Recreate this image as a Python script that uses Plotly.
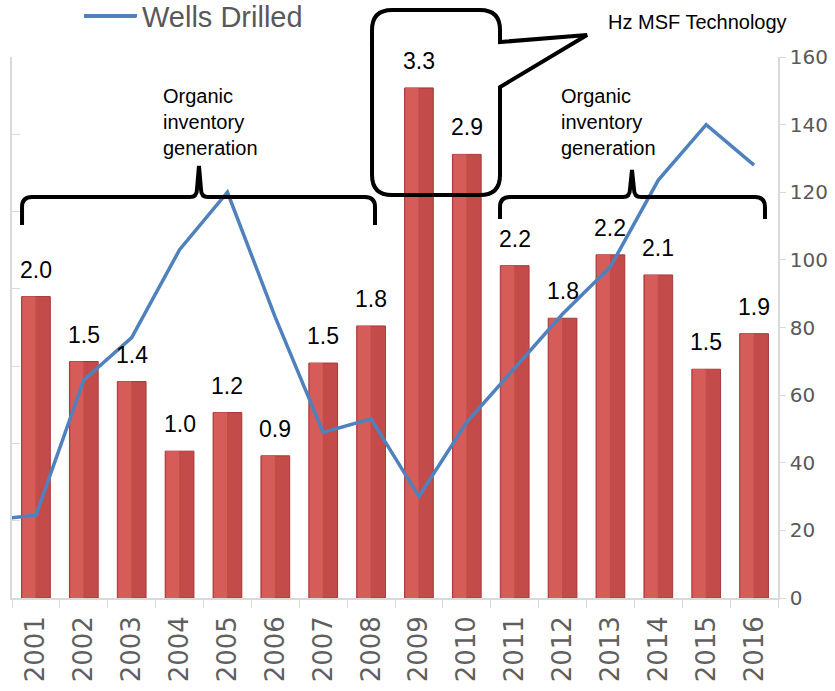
import plotly.graph_objects as go

# data
years = [str(y) for y in range(2001, 2017)]
bar_height = [1.95, 1.53, 1.40, 0.95, 1.20, 0.92, 1.52, 1.76, 3.30, 2.87, 2.15, 1.81, 2.22, 2.09, 1.48, 1.71]
bar_label = ["2.0", "1.5", "1.4", "1.0", "1.2", "0.9", "1.5", "1.8", "3.3", "2.9", "2.2", "1.8", "2.2", "2.1", "1.5", "1.9"]
line_years = ["2000"] + years
wells_drilled = [23, 24.5, 64.5, 77, 103, 120, 83, 49, 53, 30, 52, 68, 84, 98, 123.6, 140, 128]

W, H = 835, 691
L, R, T, B = 12, 57, 57, 93
PW, PH = W - L - R, H - T - B


def px(x):
    return (x - L) / PW


def py(y):
    return (H - B - y) / PH


fig = go.Figure()

# bars: darker base with a lighter left half for the bevelled look
fig.add_trace(go.Bar(
    x=years, y=bar_height, width=0.6, offset=-0.3, showlegend=False,
    marker=dict(color="#C34C4A", line=dict(color="#A23A38", width=1)),
    hoverinfo="skip"
))
fig.add_trace(go.Bar(
    x=years, y=bar_height, width=0.27, offset=-0.28, showlegend=False,
    marker=dict(color="#D65C5A", line=dict(width=0)),
    hoverinfo="skip"
))

fig.add_trace(go.Scatter(
    x=line_years, y=wells_drilled, yaxis="y2", mode="lines", name="Wells Drilled",
    line=dict(color="#4F81BD", width=3.5)
))

# value labels above the bars (category axis -> serial index)
annotations = []
for i, (h, lab) in enumerate(zip(bar_height, bar_label)):
    annotations.append(dict(x=i + 1, y=h, xref="x", yref="y", text=lab, showarrow=False,
                            yanchor="bottom", yshift=12,
                            font=dict(family="Liberation Sans, Arial", size=23, color="#000000")))

org_text = "Organic<br>inventory<br>generation"
for xl in (161, 559):
    annotations.append(dict(x=px(xl), y=py(122), xref="paper", yref="paper", text=org_text,
                            showarrow=False, xanchor="left", yanchor="middle", align="left",
                            font=dict(family="Liberation Sans, Arial", size=20, color="#000000")))
annotations.append(dict(x=px(697), y=py(22), xref="paper", yref="paper", text="Hz MSF Technology",
                        showarrow=False, xanchor="center", yanchor="middle",
                        font=dict(family="Liberation Sans, Arial", size=20, color="#000000")))


def brace(x0, xm, x1, yb, ytop, yend):
    p = [(x0, yend), (x0, yb + 10), (x0, yb), (x0 + 10, yb), (xm - 9, yb), (xm - 2, yb), (xm - 2, yb - 8),
         (xm, ytop), (xm + 2, yb - 8), (xm + 2, yb), (xm + 9, yb), (x1 - 10, yb), (x1, yb), (x1, yb + 10), (x1, yend)]
    q = [(px(a), py(b)) for a, b in p]
    return ("M {:.4f},{:.4f} L {:.4f},{:.4f} Q {:.4f},{:.4f} {:.4f},{:.4f} L {:.4f},{:.4f} "
            "Q {:.4f},{:.4f} {:.4f},{:.4f} L {:.4f},{:.4f} L {:.4f},{:.4f} "
            "Q {:.4f},{:.4f} {:.4f},{:.4f} L {:.4f},{:.4f} Q {:.4f},{:.4f} {:.4f},{:.4f} L {:.4f},{:.4f}"
            ).format(*[v for pt in q for v in pt])


def callout():
    p = [(392, 10), (480, 10), (500, 10), (500, 30), (500, 42), (587, 35), (500, 87), (500, 175),
         (500, 195), (480, 195), (392, 195), (372, 195), (372, 175), (372, 30), (372, 10), (392, 10)]
    q = [(px(a), py(b)) for a, b in p]
    return ("M {:.4f},{:.4f} L {:.4f},{:.4f} Q {:.4f},{:.4f} {:.4f},{:.4f} L {:.4f},{:.4f} L {:.4f},{:.4f} "
            "L {:.4f},{:.4f} L {:.4f},{:.4f} Q {:.4f},{:.4f} {:.4f},{:.4f} L {:.4f},{:.4f} "
            "Q {:.4f},{:.4f} {:.4f},{:.4f} L {:.4f},{:.4f} Q {:.4f},{:.4f} {:.4f},{:.4f} Z"
            ).format(*[v for pt in q for v in pt])


legend_y = 16
shapes = [
    dict(type="path", xref="paper", yref="paper", path=brace(22, 199, 375, 197, 166, 225),
         line=dict(color="#000000", width=4)),
    dict(type="path", xref="paper", yref="paper", path=brace(500, 632, 765, 197, 170, 219),
         line=dict(color="#000000", width=4)),
    dict(type="path", xref="paper", yref="paper", path=callout(),
         line=dict(color="#000000", width=4)),
    # longer legend key like the original
    dict(type="line", xref="paper", yref="paper", x0=px(84), x1=px(136), y0=py(legend_y), y1=py(legend_y),
         line=dict(color="#4F81BD", width=4)),
]

grey = "#D9D9D9"
fig.update_layout(
    width=W, height=H,
    margin=dict(l=L, r=R, t=T, b=B, autoexpand=False),
    paper_bgcolor="white", plot_bgcolor="white",
    barmode="overlay",
    xaxis=dict(type="category", categoryorder="array", categoryarray=line_years,
               range=[0.5, 16.5], tickson="boundaries", ticks="outside", ticklen=8,
               tickcolor=grey, showline=True, linecolor=grey, linewidth=1.5, tickangle=-90,
               ticklabelstandoff=6,
               tickfont=dict(family="DejaVu Sans", size=26, color="#5F5F5F"), showgrid=False,
               automargin=False),
    yaxis=dict(range=[0, 3.5], dtick=0.5, showticklabels=False, ticks="inside", ticklen=8,
               tickcolor=grey, showline=True, linecolor=grey, linewidth=1.5,
               showgrid=False, zeroline=False, automargin=False),
    yaxis2=dict(range=[0, 160], dtick=20, overlaying="y", side="right", ticks="outside", ticklen=6,
                tickcolor=grey, showline=True, linecolor=grey, linewidth=1.5, showgrid=False,
                zeroline=False, automargin=False,
                tickfont=dict(family="DejaVu Sans", size=20, color="#595959")),
    legend=dict(orientation="h", x=px(102), y=py(legend_y), xanchor="left", yanchor="middle",
                bgcolor="rgba(0,0,0,0)",
                font=dict(family="Liberation Sans, Arial", size=29, color="#595959")),
    showlegend=True,
    annotations=annotations,
    shapes=shapes,
)

# the page's default body margin would shift the chart by 8px
fig.write_html("out.html", config={"displayModeBar": False},
               post_script="document.body.style.margin='0';")
